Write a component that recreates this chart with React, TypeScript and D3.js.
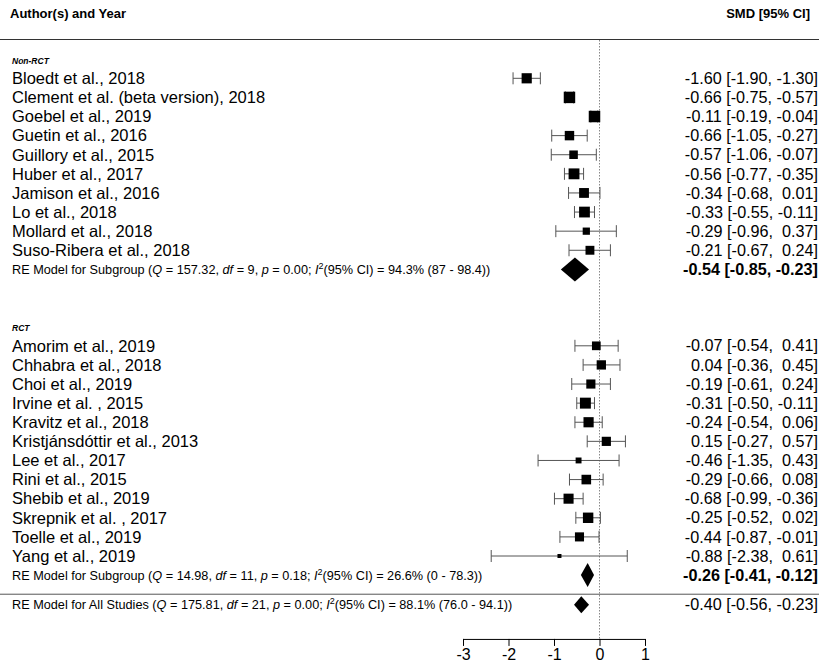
import React, { useEffect, useRef } from 'react';
import * as d3 from 'd3';

// Non-RCT subgroup
const nonRctStudies = [
  'Bloedt et al., 2018',
  'Clement et al. (beta version), 2018',
  'Goebel et al., 2019',
  'Guetin et al., 2016',
  'Guillory et al., 2015',
  'Huber et al., 2017',
  'Jamison et al., 2016',
  'Lo et al., 2018',
  'Mollard et al., 2018',
  'Suso-Ribera et al., 2018',
];
const nonRctEst = [-1.6, -0.66, -0.11, -0.66, -0.57, -0.56, -0.34, -0.33, -0.29, -0.21];
const nonRctLower = [-1.9, -0.75, -0.19, -1.05, -1.06, -0.77, -0.68, -0.55, -0.96, -0.67];
const nonRctUpper = [-1.3, -0.57, -0.04, -0.27, -0.07, -0.35, 0.01, -0.11, 0.37, 0.24];

// RCT subgroup
const rctStudies = [
  'Amorim et al., 2019',
  'Chhabra et al., 2018',
  'Choi et al., 2019',
  'Irvine et al. , 2015',
  'Kravitz et al., 2018',
  'Kristjánsdóttir et al., 2013',
  'Lee et al., 2017',
  'Rini et al., 2015',
  'Shebib et al., 2019',
  'Skrepnik et al. , 2017',
  'Toelle et al., 2019',
  'Yang et al., 2019',
];
const rctEst = [-0.07, 0.04, -0.19, -0.31, -0.24, 0.15, -0.46, -0.29, -0.68, -0.25, -0.44, -0.88];
const rctLower = [-0.54, -0.36, -0.61, -0.5, -0.54, -0.27, -1.35, -0.66, -0.99, -0.52, -0.87, -2.38];
const rctUpper = [0.41, 0.45, 0.24, -0.11, 0.06, 0.57, 0.43, 0.08, -0.36, 0.02, -0.01, 0.61];

// RE model summaries: Non-RCT, RCT, all studies
const modelNames = ['Subgroup', 'Subgroup', 'All Studies'];
const modelQ = ['157.32', '14.98', '175.81'];
const modelDf = ['9', '11', '21'];
const modelP = ['0.00', '0.18', '0.00'];
const modelI2 = ['94.3', '26.6', '88.1'];
const modelI2ci = ['87 - 98.4', '0 - 78.3', '76.0 - 94.1'];
const modelEst = [-0.54, -0.26, -0.4];
const modelLower = [-0.85, -0.41, -0.56];
const modelUpper = [-0.23, -0.12, -0.23];

const axisTicks = [-3, -2, -1, 0, 1];

const tau2 = 0.13; // between-study variance used for RE weights (square sizes)

const fmt = (v: number) => (v < 0 ? v.toFixed(2) : ' ' + v.toFixed(2));
const ciText = (e: number, l: number, u: number) => `${fmt(e)} [${fmt(l)}, ${fmt(u)}]`;

const App = () => {
  const ref = useRef<HTMLDivElement>(null);

  useEffect(() => {
    const width = 819;
    const height = 663;
    const root = d3.select(ref.current);
    root.selectAll('*').remove();

    const svg = root
      .append('svg')
      .attr('width', width)
      .attr('height', height)
      .style('position', 'absolute')
      .style('left', '0px')
      .style('top', '0px')
      .style('font-family', '"Liberation Sans", Arial, sans-serif')
      .style('background', '#fff');

    const x = d3.scaleLinear().domain([-3, 1]).range([463, 645]);
    const y = d3.scaleLinear().domain([0, 25]).range([78.3, 556]);

    const studies = [
      ...nonRctStudies.map((s, i) => ({ label: s, est: nonRctEst[i], lo: nonRctLower[i], hi: nonRctUpper[i], row: i })),
      ...rctStudies.map((s, i) => ({ label: s, est: rctEst[i], lo: rctLower[i], hi: rctUpper[i], row: 14 + i })),
    ];
    const weight = (d: any) => {
      const se = (d.hi - d.lo) / 3.92;
      return 1 / (se * se + tau2);
    };
    const size = d3
      .scaleLinear()
      .domain(d3.extent(studies, weight) as [number, number])
      .range([4, 11.5]);

    const labelX = 12;
    const rightX = 818;

    // header
    svg.append('text').attr('x', 10).attr('y', 13).attr('dy', '0.35em')
      .attr('font-size', 13).attr('font-weight', 'bold').text('Author(s) and Year');
    svg.append('text').attr('x', 810).attr('y', 13).attr('dy', '0.35em')
      .attr('text-anchor', 'end').attr('font-size', 13).attr('font-weight', 'bold').text('SMD [95% CI]');
    svg.append('line').attr('x1', 0).attr('x2', width).attr('y1', 39.5).attr('y2', 39.5)
      .attr('stroke', '#333').attr('stroke-width', 1.2);

    // reference line at 0
    svg.append('line').attr('x1', x(0)).attr('x2', x(0)).attr('y1', 40).attr('y2', y(29.34))
      .attr('stroke', '#888').attr('stroke-dasharray', '1.5,1.5');

    // subgroup headings
    const headings = [{ t: 'Non-RCT', row: -1 }, { t: 'RCT', row: 13 }];
    svg.selectAll('text.heading').data(headings).enter().append('text')
      .attr('class', 'heading')
      .attr('x', labelX).attr('y', (d) => y(d.row) + 1.5).attr('dy', '0.35em')
      .attr('font-size', 8.5).attr('font-weight', 'bold').attr('font-style', 'italic')
      .text((d) => d.t);

    // study rows
    const g = svg.selectAll('g.study').data(studies).enter().append('g').attr('class', 'study');
    g.append('text').attr('x', labelX).attr('y', (d) => y(d.row)).attr('dy', '0.35em')
      .attr('font-size', 16.5).text((d) => d.label);
    g.append('text').attr('x', rightX).attr('y', (d) => y(d.row)).attr('dy', '0.35em')
      .attr('text-anchor', 'end').attr('font-size', 16.2).style('white-space', 'pre')
      .text((d) => ciText(d.est, d.lo, d.hi));
    g.append('line').attr('x1', (d) => x(d.lo)).attr('x2', (d) => x(d.hi))
      .attr('y1', (d) => y(d.row)).attr('y2', (d) => y(d.row))
      .attr('stroke', '#555').attr('stroke-width', 1);
    [0, 1].forEach((k) => {
      g.append('line')
        .attr('x1', (d) => x(k ? d.hi : d.lo)).attr('x2', (d) => x(k ? d.hi : d.lo))
        .attr('y1', (d) => y(d.row) - 6).attr('y2', (d) => y(d.row) + 6)
        .attr('stroke', '#555').attr('stroke-width', 1);
    });
    g.append('rect')
      .attr('x', (d) => x(d.est) - size(weight(d)) / 2)
      .attr('y', (d) => y(d.row) - size(weight(d)) / 2)
      .attr('width', (d) => size(weight(d)))
      .attr('height', (d) => size(weight(d)))
      .attr('fill', '#000');

    // RE model rows
    const models = modelNames.map((n, i) => ({
      name: n, q: modelQ[i], df: modelDf[i], p: modelP[i], i2: modelI2[i], ci: modelI2ci[i],
      est: modelEst[i], lo: modelLower[i], hi: modelUpper[i],
      row: [10, 26, 27.55][i], h: i < 2 ? 12 : 8.5, bold: i < 2,
    }));

    models.forEach((m) => {
      const t = svg.append('text').attr('x', labelX).attr('y', y(m.row)).attr('dy', '0.35em')
        .attr('font-size', 12.7);
      const parts = [
        { s: `RE Model for ${m.name} (` },
        { s: 'Q', it: true },
        { s: ` = ${m.q}, ` },
        { s: 'df', it: true },
        { s: ` = ${m.df}, ` },
        { s: 'p', it: true },
        { s: ` = ${m.p}; ` },
        { s: 'I', it: true },
        { s: '2', sup: true },
        { s: `(95% CI) = ${m.i2}% (${m.ci}))`, down: true },
      ];
      parts.forEach((p: any) => {
        const ts = t.append('tspan').text(p.s);
        if (p.it) ts.attr('font-style', 'italic');
        if (p.sup) ts.attr('font-size', 9).attr('dy', -5);
        if (p.down) ts.attr('dy', 5);
      });

      svg.append('path')
        .attr('d', `M${x(m.lo)},${y(m.row)} L${x(m.est)},${y(m.row) - m.h} L${x(m.hi)},${y(m.row)} L${x(m.est)},${y(m.row) + m.h} Z`)
        .attr('fill', '#000');

      svg.append('text').attr('x', rightX).attr('y', y(m.row)).attr('dy', '0.35em')
        .attr('text-anchor', 'end').attr('font-size', 16.2).style('white-space', 'pre')
        .attr('font-weight', m.bold ? 'bold' : 'normal')
        .text(ciText(m.est, m.lo, m.hi));
    });

    // separator above overall
    svg.append('line').attr('x1', 0).attr('x2', width).attr('y1', y(27)).attr('y2', y(27))
      .attr('stroke', '#555').attr('stroke-width', 1);

    // x axis
    const axisY = y(29.34);
    const axis = svg.append('g').attr('transform', `translate(0,${axisY})`)
      .call(d3.axisBottom(x).tickValues(axisTicks).tickSize(7).tickFormat((d: any) => `${d}`));
    axis.select('.domain').attr('d', `M${x(-3)},0.5H${x(1)}`).attr('stroke', '#000');
    axis.selectAll('.tick line').attr('stroke', '#000');
    axis.selectAll('.tick text').attr('font-size', 16).attr('font-family', '"Liberation Sans", Arial, sans-serif')
      .attr('fill', '#000').attr('y', 10);
  }, []);

  return <div ref={ref} />;
};

export default App;
